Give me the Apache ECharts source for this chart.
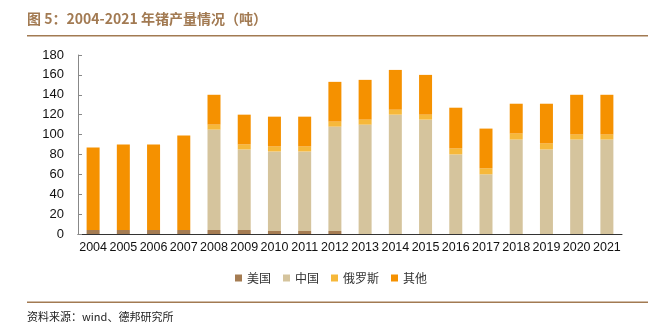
<!DOCTYPE html>
<html>
<head>
<meta charset="utf-8">
<script src="https://cdn.jsdelivr.net/npm/echarts@6/dist/echarts.min.js"></script>
<style>
  html, body { margin: 0; padding: 0; background: #fff; }
  #chart { width: 662px; height: 332px; }
</style>
</head>
<body>
<div id="chart"></div>
<script>
// 2004-2021 germanium output by producer (tonnes)
const years = ['2004','2005','2006','2007','2008','2009','2010','2011','2012','2013','2014','2015','2016','2017','2018','2019','2020','2021'];
const usa    = [4, 4, 4, 4, 4, 4, 3, 3, 3, 0, 0, 0, 0, 0, 0, 0, 0, 0];
const china  = [0, 0, 0, 0, 101, 81, 80, 80, 105, 110, 120, 115, 80, 60, 95, 85, 95, 95];
const russia = [0, 0, 0, 0, 5, 5, 5, 5, 5, 5, 5, 5, 6, 6, 6, 6, 5, 5];
const others = [83, 86, 86, 95, 30, 30, 30, 30, 40, 40, 40, 40, 41, 40, 30, 40, 40, 40];
const seriesNames = ['美国', '中国', '俄罗斯', '其他'];
const yTicks = { min: 0, max: 180, interval: 20 };

const colors = ['#a57c52', '#d5c49d', '#f6b83a', '#f59100'];
const dataSets = [usa, china, russia, others];
const brown = '#a27a52';

const chart = echarts.init(document.getElementById('chart'), null, { renderer: 'canvas' });

chart.setOption({
  animation: false,
  color: colors,
  textStyle: { fontFamily: '"Liberation Sans", Arial, sans-serif' },
  grid: { left: 78, right: 40, top: 55, bottom: 98, containLabel: false },
  legend: {
    bottom: 43,
    left: 'center',
    icon: 'rect',
    itemWidth: 7,
    itemHeight: 7,
    itemGap: 12,
    textStyle: { fontFamily: '"Noto Sans CJK SC", sans-serif', fontSize: 12, color: '#333' },
    data: seriesNames
  },
  xAxis: {
    type: 'category',
    data: years,
    axisLine: { lineStyle: { color: '#333', width: 1 } },
    axisTick: { inside: true, length: 4, lineStyle: { color: '#333' } },
    axisLabel: { interval: 0, color: '#111', fontSize: 12.5, margin: 7 }
  },
  yAxis: {
    type: 'value',
    min: yTicks.min,
    max: yTicks.max,
    interval: yTicks.interval,
    splitLine: { show: false },
    axisLine: { show: true, lineStyle: { color: '#888', width: 1 } },
    axisTick: { show: true, inside: true, length: 4, lineStyle: { color: '#888' } },
    axisLabel: { color: '#111', fontSize: 13, margin: 14 }
  },
  series: seriesNames.map((name, i) => ({
    name: name,
    type: 'bar',
    stack: 'total',
    barWidth: 13,
    data: dataSets[i],
    itemStyle: { color: colors[i] }
  })),
  graphic: [
    {
      type: 'text',
      left: 27,
      top: 12,
      style: {
        text: '图 5：2004-2021 年锗产量情况（吨）',
        fill: brown,
        font: 'bold 14px "Noto Sans CJK SC", "Liberation Sans", sans-serif'
      }
    },
    {
      type: 'line',
      shape: { x1: 27, y1: 35.7, x2: 648, y2: 35.7 },
      style: { stroke: brown, lineWidth: 1.5 }
    },
    {
      type: 'line',
      shape: { x1: 27, y1: 302.3, x2: 648, y2: 302.3 },
      style: { stroke: brown, lineWidth: 1.5 }
    },
    {
      type: 'text',
      left: 27,
      top: 311,
      style: {
        text: '资料来源：wind、德邦研究所',
        fill: '#222',
        font: '11px "Noto Sans CJK SC", "Liberation Sans", sans-serif'
      }
    }
  ]
});
</script>
</body>
</html>
